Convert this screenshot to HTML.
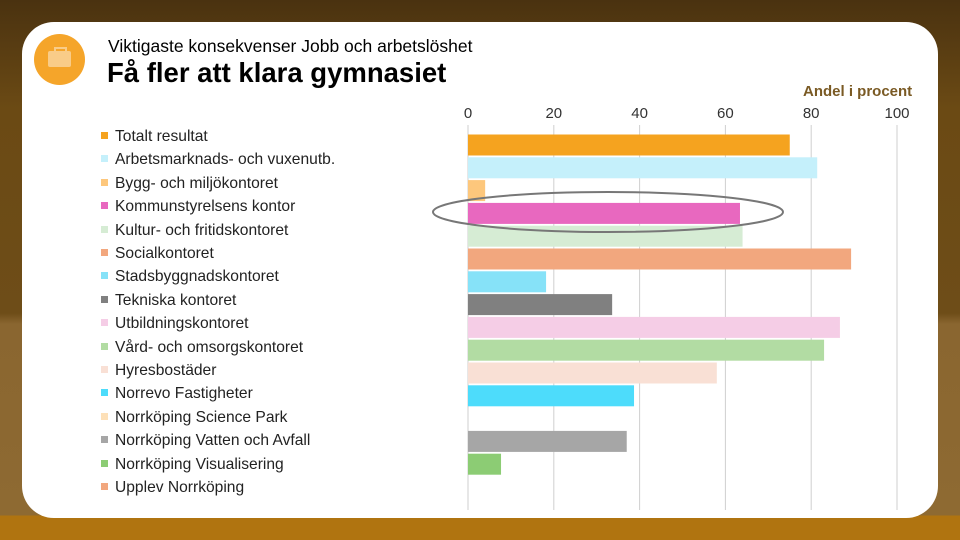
<!DOCTYPE html>
<html><head><meta charset="utf-8"><style>
body{margin:0;width:960px;height:540px;overflow:hidden;font-family:"Liberation Sans",sans-serif;position:relative;
background:linear-gradient(180deg,#4a3210 0%,#6b4a14 20%,#6e4d18 58%,#8a6630 60%,#8e6a32 95.5%,#b07410 95.5%,#b07410 100%);}
#card{position:absolute;left:22px;top:22px;width:916px;height:496px;background:#fff;border-radius:32px;}
.t{position:absolute;color:#000;white-space:nowrap}
.lg{position:absolute;left:101px;font-size:15.6px;color:#222;white-space:nowrap}
.lg i{display:inline-block;width:7px;height:7px;margin-right:7px;vertical-align:2px}
</style></head><body>
<div id="card"></div>
<div style="position:absolute;left:34px;top:34px;width:51px;height:51px;border-radius:50%;background:#f5a52a">
<div style="position:absolute;left:14px;top:17px;width:23px;height:16px;background:#f9cc88;border-radius:2px"></div>
<div style="position:absolute;left:20px;top:13px;width:9px;height:4px;border:2px solid #f9cc88;border-bottom:none"></div></div>
<div class="t" style="left:108px;top:36px;font-size:17.5px">Viktigaste konsekvenser Jobb och arbetslöshet</div>
<div class="t" style="left:107px;top:57px;font-size:27.5px;font-weight:bold">Få fler att klara gymnasiet</div>
<div class="t" style="left:803px;top:83px;font-size:15px;font-weight:bold;color:#7a5a24">Andel i procent</div>
<div id="legend"></div>
<svg id="chart" width="960" height="540" style="position:absolute;left:0;top:0"></svg>
<script>
const categories=["Totalt resultat","Arbetsmarknads- och vuxenutb.","Bygg- och miljökontoret","Kommunstyrelsens kontor","Kultur- och fritidskontoret","Socialkontoret","Stadsbyggnadskontoret","Tekniska kontoret","Utbildningskontoret","Vård- och omsorgskontoret","Hyresbostäder","Norrevo Fastigheter","Norrköping Science Park","Norrköping Vatten och Avfall","Norrköping Visualisering","Upplev Norrköping"];
const values=[75,81.4,4,63.4,64,89.3,18.2,33.6,86.7,83,58,38.7,0,37,7.7,0];
const colors=["#f5a31f","#c5f0fb","#fdc77c","#e868bf","#d6ecd4","#f2a77e","#86e2f8","#808080","#f5cde6","#b2dca3","#f9e0d5","#4ddcfb","#fde0b8","#a6a6a6","#8ccc74","#f2a77e"];
const ticks=[0,20,40,60,80,100];
const NS="http://www.w3.org/2000/svg",svg=document.getElementById('chart');
const x=v=>468+v*4.29, yc=i=>145+i*22.8;
function mk(t,a){const e=document.createElementNS(NS,t);for(const k in a)e.setAttribute(k,a[k]);svg.appendChild(e);return e;}
ticks.forEach(t=>{
 const l=mk('line',{x1:x(t),x2:x(t),y1:125,y2:510,stroke:'#cfcfcf','stroke-width':1});
 
 
 const tx=mk('text',{x:x(t),y:118,'text-anchor':'middle','font-size':15,fill:'#333','font-family':'Liberation Sans, sans-serif'});
 tx.textContent=t;
 
 
});
const lg=document.getElementById('legend');
categories.forEach((c,i)=>{
 if(values[i]>0){const r=mk('rect',{x:x(0),y:yc(i)-10.5,width:x(values[i])-x(0),height:21,fill:colors[i]});
 
 }
 const d=document.createElement('div');d.className='lg';d.style.top=(128+i*23.4)+'px';
 d.innerHTML='<i style="background:'+colors[i]+'"></i>'+c;
 
 
 lg.appendChild(d);
});
const el=mk('ellipse',{cx:608,cy:212,rx:175,ry:20,fill:'none',stroke:'#777','stroke-width':2});


</script>
</body></html>
